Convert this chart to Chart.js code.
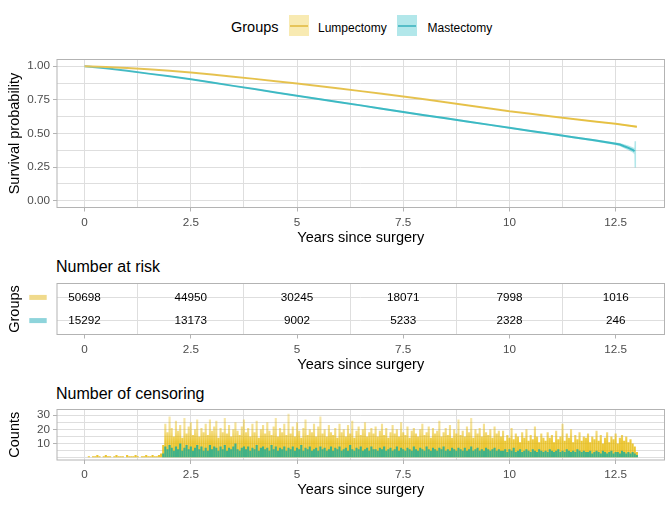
<!DOCTYPE html>
<html><head><meta charset="utf-8">
<script src="https://cdn.jsdelivr.net/npm/chart.js@4.4.1/dist/chart.umd.min.js"></script>
<style>
html,body{margin:0;padding:0;background:#fff;}
body{width:672px;height:505px;position:relative;overflow:hidden;font-family:"Liberation Sans",Arial,sans-serif;}
canvas{position:absolute;left:0;}
.t{position:absolute;white-space:nowrap;color:#000;}
.key{position:absolute;width:20px;height:21px;}
.key i{position:absolute;left:1px;right:1px;top:9.5px;height:2px;}
</style></head><body>
<div class="t" style="left:231px;top:20px;font-size:14.5px;line-height:14.5px;">Groups</div>
<div class="key" style="left:289px;top:15px;background:rgba(231,184,0,0.3);"><i style="background:rgb(230,196,90);"></i></div>
<div class="t" style="left:318px;top:21.5px;font-size:12px;line-height:12px;">Lumpectomy</div>
<div class="key" style="left:397px;top:15px;background:rgba(0,175,187,0.3);"><i style="background:rgb(86,190,200);"></i></div>
<div class="t" style="left:427.5px;top:21.5px;font-size:12px;line-height:12px;">Mastectomy</div>
<div class="t" style="left:56px;top:259px;font-size:16px;line-height:16px;">Number at risk</div>
<div class="t" style="left:56px;top:386px;font-size:16px;line-height:16px;">Number of censoring</div>
<canvas id="c1" width="672" height="251" style="top:0px"></canvas>
<canvas id="c2" width="672" height="128" style="top:250px"></canvas>
<canvas id="c3" width="672" height="128" style="top:375px"></canvas>
<script>
// ================= DATA =================
const groups = ['Lumpectomy', 'Mastectomy'];

// Survival curves
const lumpTimes = [0,0.5,1,1.5,2,2.5,3,3.5,4,4.5,5,5.5,6,6.5,7,7.5,8,8.5,9,9.5,10,10.5,11,11.5,12,12.5,13];
const lumpSurv  = [1.000,0.995,0.987,0.977,0.966,0.953,0.938,0.922,0.906,0.889,0.871,0.853,0.834,0.815,0.795,0.775,0.754,0.732,0.710,0.688,0.665,0.646,0.627,0.608,0.590,0.572,0.550];
const lumpUpper = [1.000,0.996,0.988,0.978,0.967,0.955,0.940,0.924,0.908,0.891,0.873,0.855,0.836,0.817,0.797,0.777,0.756,0.735,0.713,0.691,0.668,0.649,0.630,0.612,0.594,0.577,0.557];
const lumpLower = [1.000,0.994,0.986,0.976,0.965,0.951,0.936,0.920,0.904,0.887,0.869,0.851,0.832,0.813,0.793,0.773,0.752,0.729,0.707,0.685,0.662,0.643,0.624,0.604,0.586,0.567,0.543];

const mastTimes = [0,0.5,1,1.5,2,2.5,3,3.5,4,4.5,5,5.5,6,6.5,7,7.5,8,8.5,9,9.5,10,10.5,11,11.5,12,12.5,12.6,12.7,12.8,12.9,12.945];
const mastSurv  = [1.000,0.985,0.966,0.945,0.925,0.904,0.879,0.854,0.830,0.805,0.781,0.757,0.733,0.709,0.684,0.660,0.636,0.613,0.589,0.566,0.542,0.519,0.496,0.472,0.449,0.424,0.418,0.405,0.393,0.378,0.369];
const mastBandTimes = [0,0.5,1,1.5,2,2.5,3,3.5,4,4.5,5,5.5,6,6.5,7,7.5,8,8.5,9,9.5,10,10.5,11,11.5,12,12.5,12.6,12.7,12.8,12.9,12.94,12.945,12.985];
const mastUpper = [1.000,0.987,0.969,0.949,0.929,0.908,0.884,0.859,0.835,0.810,0.787,0.763,0.739,0.715,0.691,0.667,0.643,0.620,0.596,0.573,0.549,0.526,0.503,0.480,0.458,0.434,0.430,0.420,0.410,0.398,0.392,0.443,0.443];
const mastLower = [1.000,0.983,0.963,0.941,0.921,0.900,0.874,0.849,0.825,0.800,0.775,0.751,0.727,0.703,0.677,0.653,0.629,0.606,0.582,0.559,0.535,0.512,0.489,0.464,0.440,0.414,0.406,0.390,0.376,0.358,0.346,0.247,0.247];

// Axis breaks and labels
const xBreaks = [0, 2.5, 5, 7.5, 10, 12.5];
const xBreakLabels = ['0', '2.5', '5', '7.5', '10', '12.5'];
const survBreaks = [0, 0.25, 0.5, 0.75, 1];
const survBreakLabels = ['0.00', '0.25', '0.50', '0.75', '1.00'];
const countBreaks = [10, 20, 30];
const countBreakLabels = ['10', '20', '30'];

// Number at risk table
const riskTimes = [0, 2.5, 5, 7.5, 10, 12.5];
const riskLump = [50698, 44950, 30245, 18071, 7998, 1016];
const riskMast = [15292, 13173, 9002, 5233, 2328, 246];

// Number of censoring, bins starting at 0.10 years, 0.05 years wide
const censorStart = 0.1, censorStep = 0.05;
const censorLump = [
 1,0,1,1,2,1,0,1,2,1,1,0,1,2,1,1,1,0,2,1,1,1,2,1,0,1,1,2,1,1,2,1,1,2,3,
 9,24,18,29,21,15,26,19,23,14,28,17,22,25,16,20,27,15,21,18,
 24,16,27,19,22,26,14,21,18,28,17,23,15,20,25,19,16,22,27,18,
 21,15,24,18,26,14,20,23,17,25,19,16,22,28,15,21,18,24,16,31,
 17,22,15,25,19,14,21,27,16,20,18,24,15,22,29,17,20,15,23,18,
 16,21,14,24,18,20,15,23,17,26,14,19,22,16,20,25,15,18,21,17,
 22,15,19,24,16,21,14,18,23,17,20,15,25,18,16,22,14,19,21,17,
 15,20,24,16,18,22,14,21,17,19,26,15,18,21,16,23,14,20,17,27,
 16,19,15,22,18,28,14,20,17,21,15,24,18,16,20,14,22,17,19,15,
 19,12,16,14,21,13,17,15,11,18,14,20,12,16,13,22,15,11,17,14,
 12,18,14,16,11,19,13,15,24,12,17,14,20,11,16,13,18,12,15,14,
 17,11,15,13,19,12,16,10,14,18,11,15,13,17,10,14,16,12,15,11,
 13,10,8,4
];
const censorMast = [
 0,0,0,0,0,0,0,0,0,0,0,0,0,0,0,0,0,0,0,0,0,0,0,0,0,0,0,0,0,0,0,0,0,0,0,
 3,8,6,9,7,5,8,6,10,5,7,9,6,8,5,7,9,6,8,5,
 7,5,9,6,8,7,5,8,6,9,5,7,6,8,10,6,5,7,8,6,
 8,5,7,6,9,5,7,8,6,7,5,9,6,8,5,7,6,8,5,7,
 6,8,5,7,6,9,5,7,6,8,5,6,7,5,8,6,7,5,6,8,
 5,7,6,8,5,6,7,5,9,6,5,7,6,8,5,6,7,5,8,6,
 6,5,7,6,8,5,6,7,5,6,8,5,7,6,5,7,6,5,8,6,
 5,7,6,5,8,6,5,7,6,5,7,6,8,5,6,5,7,6,5,7,
 6,5,7,5,6,8,5,6,7,5,6,5,7,6,5,6,7,5,6,5,
 5,6,4,6,5,7,4,5,6,4,5,6,5,4,6,5,4,6,5,4,
 5,4,6,5,4,5,6,4,5,4,6,5,4,5,4,6,5,4,5,4,
 4,5,3,4,5,4,3,5,4,3,4,5,3,4,4,3,5,4,3,4,
 3,4,3,2
];

// ================= STYLE =================
const FONT = '"Liberation Sans", Arial, sans-serif';
Chart.defaults.font.family = FONT;
Chart.defaults.color = '#000';
const GRID = '#dedede';
const TICKC = '#b3b3b3';
const TICKTXT = '#4d4d4d';
const NONE = 'rgba(0,0,0,0)';
const LUMP_LINE = 'rgb(230,196,90)';
const MAST_LINE = 'rgb(86,190,200)';
const Y_W = 57;

const midpoints = a => a.slice(1).map((b, i) => (b + a[i]) / 2);
const xGrid = xBreaks.concat(midpoints(xBreaks)).sort((a, b) => a - b);
const survGrid = survBreaks.concat(midpoints(survBreaks)).sort((a, b) => a - b);
const countGrid = [0, 5].concat(countBreaks, midpoints(countBreaks)).sort((a, b) => a - b);
const isIn = (arr, v) => arr.some(b => Math.abs(b - v) < 1e-9);
const labelOf = (arr, labels, v) => { const i = arr.findIndex(b => Math.abs(b - v) < 1e-9); return i >= 0 ? labels[i] : ''; };

const borderPlugin = {
  id: 'panelBorder',
  afterDatasetsDraw(chart) {
    const { ctx, chartArea: a } = chart;
    ctx.save();
    ctx.strokeStyle = TICKC;
    ctx.lineWidth = 1;
    ctx.strokeRect(a.left, a.top, a.right - a.left, a.bottom - a.top);
    ctx.restore();
  }
};

function xScale(hideMajorGrid, height) {
  return {
    type: 'linear', min: -0.65, max: 13.65, offset: false,
    afterBuildTicks: s => { s.ticks = xGrid.map(v => ({ value: v })); },
    afterFit: s => { s.height = height; },
    border: { display: false },
    grid: {
      offset: false,
      color: c => (hideMajorGrid && c.tick && isIn(xBreaks, c.tick.value)) ? NONE : GRID,
      lineWidth: 1, drawTicks: true, tickLength: 4,
      tickColor: c => (c.tick && isIn(xBreaks, c.tick.value)) ? TICKC : NONE
    },
    ticks: {
      autoSkip: false, maxRotation: 0, padding: 4, color: TICKTXT,
      font: { size: 11.7, family: FONT },
      callback: v => labelOf(xBreaks, xBreakLabels, v)
    },
    title: { display: true, text: 'Years since surgery', color: '#000',
      font: { size: 14.5, family: FONT }, padding: { top: 0, bottom: 4 } }
  };
}

function yScale(opts) {
  return Object.assign({
    type: 'linear',
    afterFit: s => { s.width = Y_W; },
    border: { display: false },
    grid: {
      color: GRID, lineWidth: 1, drawTicks: true, tickLength: 4,
      tickColor: c => (c.tick && opts.breaks && isIn(opts.breaks, c.tick.value)) ? TICKC : NONE
    },
    ticks: {
      autoSkip: false, padding: 3, color: TICKTXT,
      font: { size: 11.7, family: FONT },
      callback: v => opts.breaks ? labelOf(opts.breaks, opts.labels, v) : ''
    },
    title: { display: true, text: opts.title, color: '#000',
      font: { size: 14.5, family: FONT }, padding: { top: 6, bottom: 0 } }
  }, opts.extra);
}

// ================= PANEL 1: survival curves =================
const pts = (t, v) => v.map((y, i) => ({ x: t[i], y }));
new Chart(document.getElementById('c1'), {
  type: 'line',
  data: { datasets: [
    { data: pts(lumpTimes, lumpUpper), borderColor: NONE, borderWidth: 1, pointRadius: 0, fill: false },
    { data: pts(lumpTimes, lumpLower), borderColor: NONE, borderWidth: 1, pointRadius: 0, fill: '-1', backgroundColor: 'rgba(231,184,0,0.3)' },
    { data: pts(mastBandTimes, mastUpper), borderColor: NONE, borderWidth: 1, pointRadius: 0, fill: false },
    { data: pts(mastBandTimes, mastLower), borderColor: NONE, borderWidth: 1, pointRadius: 0, fill: '-1', backgroundColor: 'rgba(0,175,187,0.3)' },
    { label: groups[0], data: pts(lumpTimes, lumpSurv), borderColor: LUMP_LINE, borderWidth: 2, pointRadius: 0, fill: false, tension: 0 },
    { label: groups[1], data: pts(mastTimes, mastSurv), borderColor: MAST_LINE, borderWidth: 2, pointRadius: 0, fill: false, tension: 0 }
  ]},
  options: {
    responsive: false, animation: false, devicePixelRatio: 1,
    layout: { padding: { top: 59.5, right: 7.5, bottom: 0, left: 0 } },
    plugins: { legend: { display: false }, tooltip: { enabled: false } },
    scales: {
      x: xScale(false, 251 - 207.5),
      y: yScale({ title: 'Survival probability', breaks: survBreaks, labels: survBreakLabels,
        extra: { min: -0.05, max: 1.05, afterBuildTicks: s => { s.ticks = survGrid.map(v => ({ value: v })); } } })
    }
  },
  plugins: [borderPlugin]
});

// ================= PANEL 2: number at risk =================
const riskPlugin = {
  id: 'riskTable',
  afterDatasetsDraw(chart) {
    const { ctx, scales: { x, y } } = chart;
    ctx.save();
    ctx.font = '11.7px ' + FONT;
    ctx.fillStyle = '#000';
    ctx.textAlign = 'center';
    ctx.textBaseline = 'middle';
    [riskLump, riskMast].forEach((vals, r) => {
      vals.forEach((v, i) => ctx.fillText(String(v), x.getPixelForValue(riskTimes[i]), y.getPixelForValue(r + 1)));
    });
    const keyCols = ['#F0DA8C', '#8ED4DB'];
    groups.forEach((g, r) => {
      ctx.fillStyle = keyCols[r];
      ctx.fillRect(29.3, y.getPixelForValue(r + 1) - 2.5, 17.4, 5);
    });
    ctx.restore();
  }
};
new Chart(document.getElementById('c2'), {
  type: 'scatter',
  data: { datasets: [] },
  options: {
    responsive: false, animation: false, devicePixelRatio: 1,
    layout: { padding: { top: 33.5, right: 7.5, bottom: 0, left: 0 } },
    plugins: { legend: { display: false }, tooltip: { enabled: false } },
    scales: {
      x: xScale(true, 128 - 84.5),
      y: yScale({ title: 'Groups',
        extra: { min: 0.4, max: 2.6, reverse: true, afterBuildTicks: s => { s.ticks = [1, 2].map(v => ({ value: v })); } } })
    }
  },
  plugins: [borderPlugin, riskPlugin]
});

// ================= PANEL 3: number of censoring =================
const censorX = censorLump.map((_, i) => Math.round((censorStart + i * censorStep) * 100) / 100);
let yellowGrad = null;
function yellowFill(c) {
  const chart = c.chart;
  const { chartArea, scales } = chart;
  if (!chartArea || !scales.y) return 'rgba(231,184,0,0.75)';
  if (!yellowGrad) {
    const y0 = scales.y.getPixelForValue(0), y30 = scales.y.getPixelForValue(30);
    yellowGrad = chart.ctx.createLinearGradient(0, y0, 0, y30);
    yellowGrad.addColorStop(0, 'rgba(231,184,0,0.82)');
    yellowGrad.addColorStop(0.38, 'rgba(231,184,0,0.78)');
    yellowGrad.addColorStop(0.6, 'rgba(231,184,0,0.5)');
    yellowGrad.addColorStop(1, 'rgba(231,184,0,0.3)');
  }
  return yellowGrad;
}
new Chart(document.getElementById('c3'), {
  type: 'bar',
  data: { datasets: [
    { label: groups[1], data: censorMast.map((v, i) => ({ x: censorX[i], y: v })), backgroundColor: 'rgba(50,176,142,0.92)',
      grouped: false, barPercentage: 1, categoryPercentage: 1, inflateAmount: 0, borderWidth: 0, order: 0 },
    { label: groups[0], data: censorLump.map((v, i) => ({ x: censorX[i], y: v })), backgroundColor: yellowFill,
      grouped: false, barPercentage: 1, categoryPercentage: 1, inflateAmount: 0, borderWidth: 0, order: 1 }
  ]},
  options: {
    responsive: false, animation: false, devicePixelRatio: 1,
    layout: { padding: { top: 34.5, right: 7.5, bottom: 0, left: 0 } },
    plugins: { legend: { display: false }, tooltip: { enabled: false } },
    scales: {
      x: xScale(false, 128 - 85),
      y: yScale({ title: 'Counts', breaks: countBreaks, labels: countBreakLabels,
        extra: { min: -1.6, max: 34, afterBuildTicks: s => { s.ticks = countGrid.map(v => ({ value: v })); } } })
    }
  },
  plugins: [borderPlugin]
});
</script>
</body></html>
